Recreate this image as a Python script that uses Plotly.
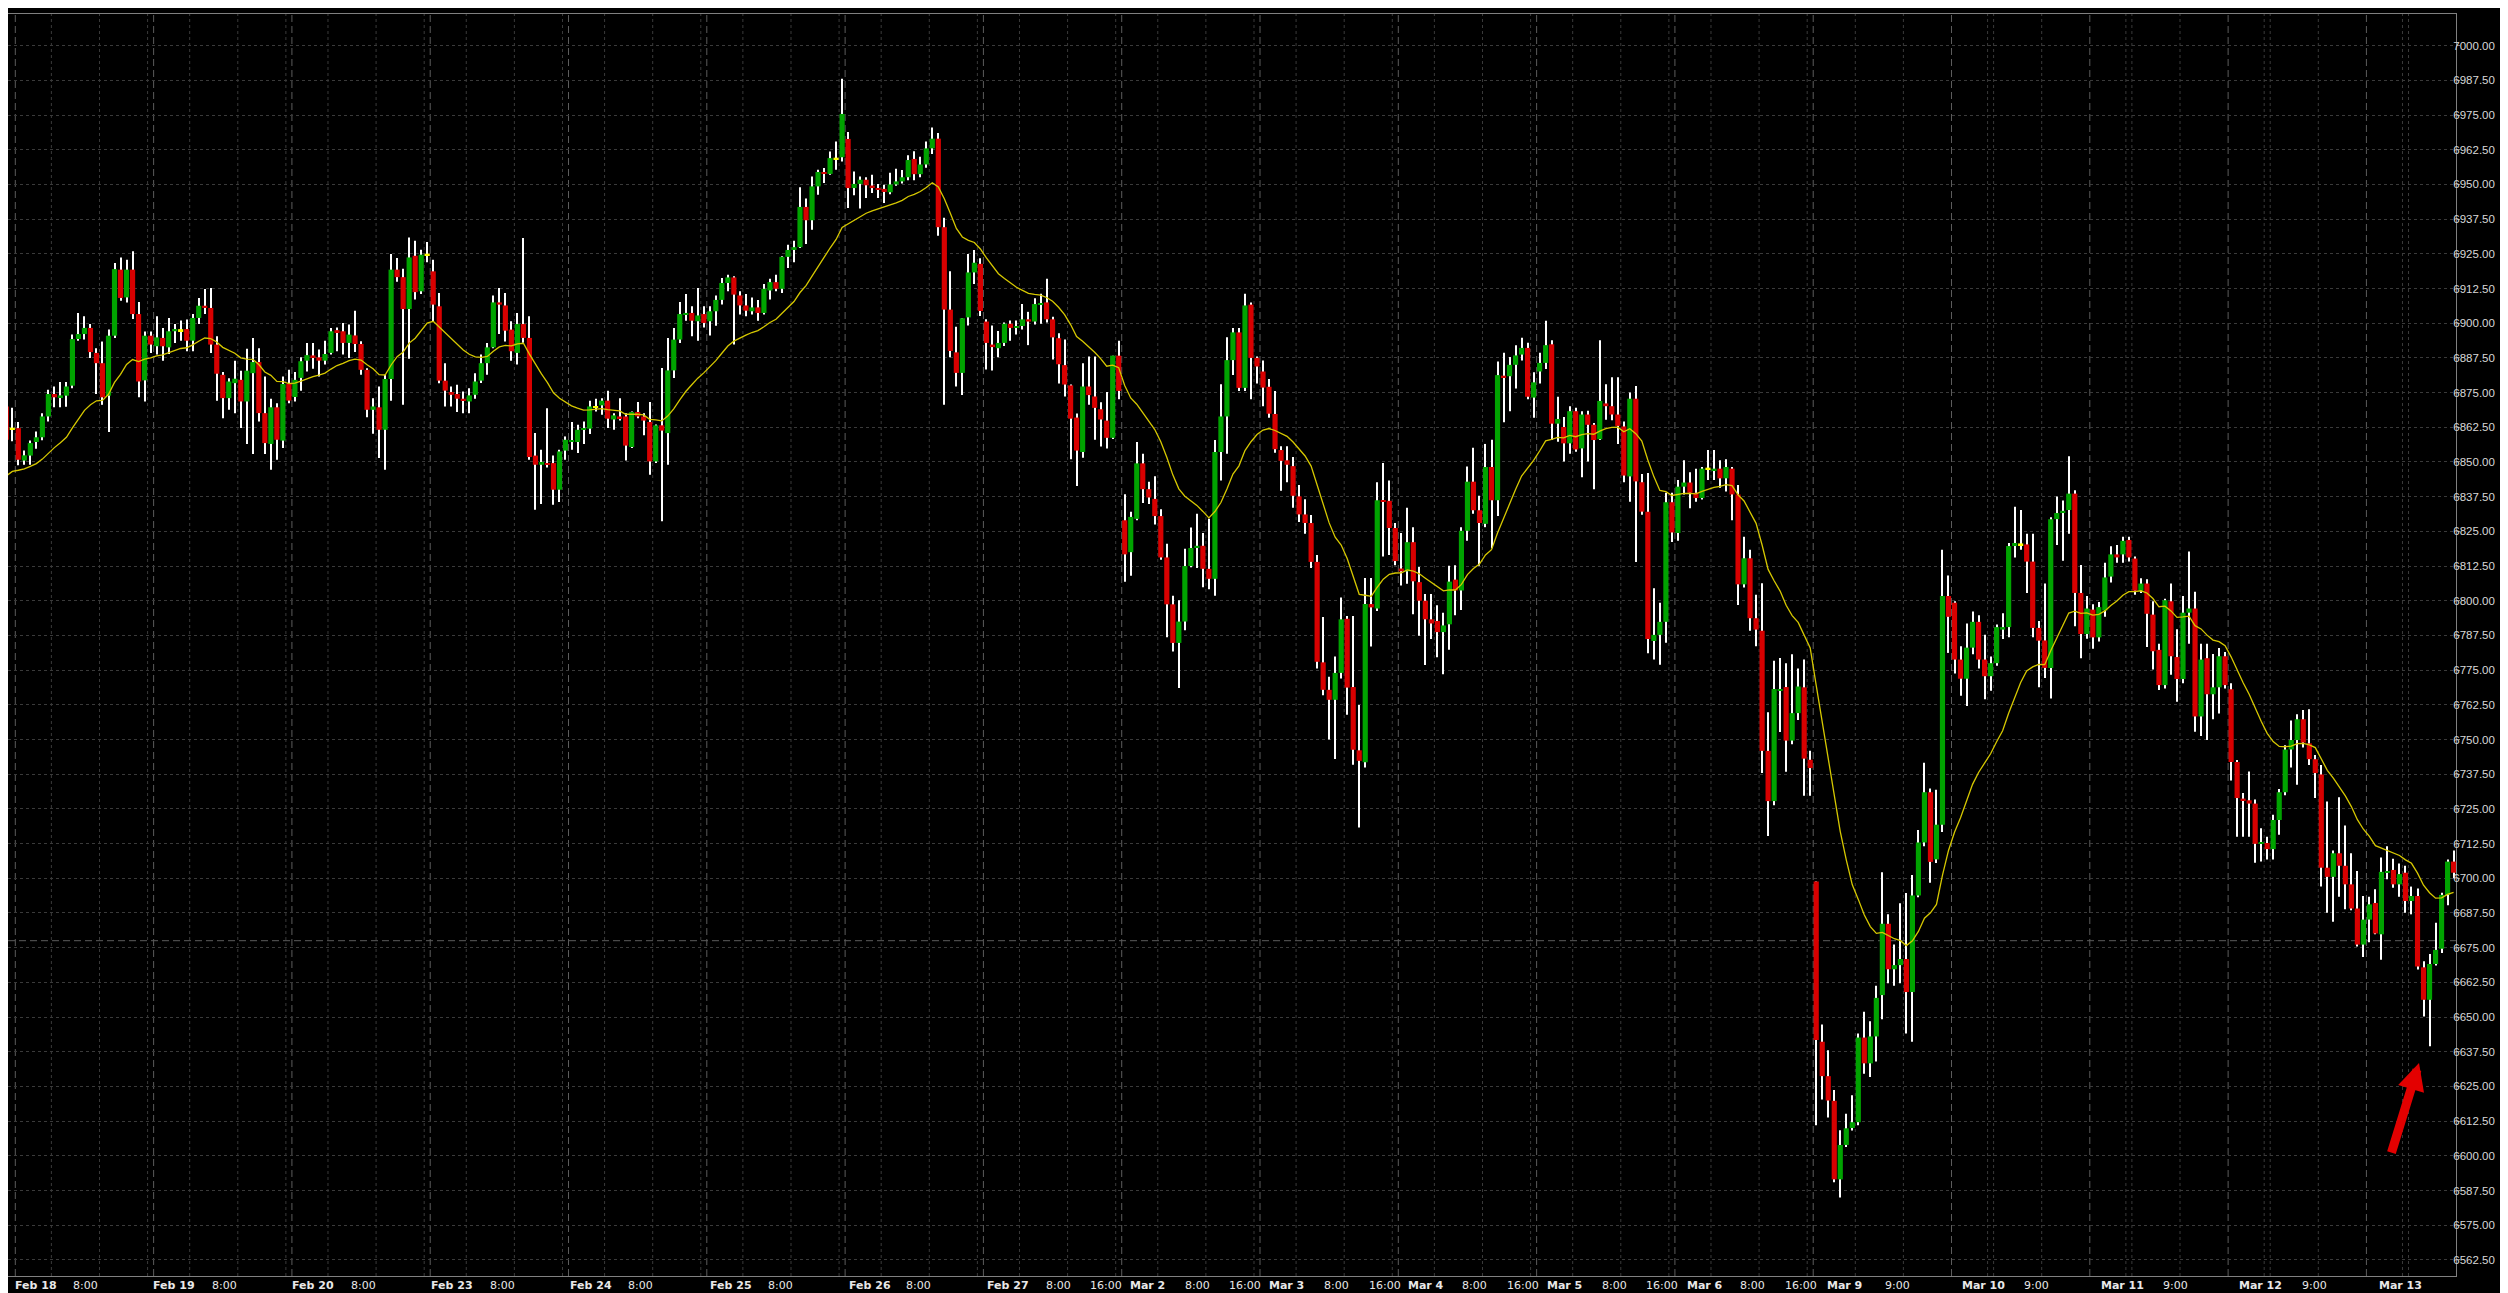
import plotly.graph_objects as go

# ---------------- data (hourly bars, index -1 .. 406) ----------------
first_bar = -1

opens = [
6870.0, 6862.0, 6862.2, 6850.5, 6852.3, 6857.2, 6858.9, 6866.4, 6874.5, 6873.4, 6873.9,
6877.5, 6894.3, 6896.1, 6898.3, 6889.3, 6885.6, 6873.9, 6895.5, 6919.3, 6909.3,
6919.3, 6903.3, 6879.4, 6895.5, 6891.7, 6894.7, 6891.3, 6897.1, 6897.5, 6897.9,
6893.7, 6901.9, 6906.3, 6905.5, 6892.3, 6881.4, 6873.0, 6878.4, 6879.6, 6871.8,
6882.0, 6886.0, 6867.6, 6856.5, 6869.7, 6857.7, 6878.1, 6873.4, 6880.3, 6886.5,
6888.4, 6887.7, 6886.5, 6889.3, 6897.5, 6897.1, 6892.9, 6895.6, 6892.5, 6883.2,
6868.8, 6869.7, 6861.6, 6879.9, 6919.3, 6916.6, 6905.1, 6924.3, 6911.5, 6924.7,
6918.7, 6906.1, 6879.3, 6875.2, 6874.5, 6872.8, 6871.8, 6874.2, 6879.3, 6885.6,
6891.3, 6907.5, 6906.4, 6897.7, 6889.3, 6899.7, 6894.7, 6852.3, 6849.0, 6849.6,
6849.6, 6840.0, 6854.1, 6857.2, 6857.2, 6861.6, 6862.0, 6869.8, 6870.4, 6872.1,
6865.3, 6866.4, 6866.4, 6855.4, 6868.0, 6866.4, 6864.4, 6850.2, 6863.2, 6860.4,
6883.0, 6894.1, 6903.0, 6903.7, 6900.7, 6903.3, 6900.7, 6904.3, 6908.4, 6914.5,
6916.5, 6910.0, 6906.4, 6904.3, 6905.7, 6903.7, 6911.8, 6914.8, 6912.4, 6923.9,
6926.4, 6927.4, 6941.9, 6937.1, 6949.3, 6954.5, 6953.8, 6959.3, 6959.8, 6966.4,
6948.7, 6950.2, 6951.7, 6949.6, 6948.7, 6948.4, 6947.2, 6950.0, 6951.1, 6952.6,
6959.2, 6953.7, 6957.2, 6963.0, 6966.5, 6934.6, 6904.9, 6889.5, 6882.1, 6902.1,
6918.3, 6921.4, 6900.6, 6892.3, 6891.0, 6892.9, 6899.8, 6898.4, 6899.0, 6901.4,
6900.6, 6906.6, 6907.5, 6901.4, 6894.6, 6884.9, 6877.6, 6866.0, 6853.6, 6877.2,
6873.6, 6869.0, 6864.9, 6858.7, 6888.3, 6829.0, 6817.5, 6829.5, 6849.5, 6840.2,
6836.7, 6830.5, 6815.6, 6798.7, 6784.8, 6792.5, 6812.5, 6819.0, 6819.8, 6811.5,
6807.9, 6853.6, 6866.4, 6886.7, 6896.7, 6876.7, 6906.7, 6887.5, 6882.6, 6877.1,
6867.3, 6854.3, 6850.6, 6848.5, 6837.6, 6831.1, 6828.0, 6814.0, 6777.8, 6767.9,
6764.3, 6774.0, 6793.5, 6768.9, 6746.1, 6741.8, 6798.8, 6797.2, 6836.2, 6836.0,
6826.2, 6811.6, 6810.6, 6821.1, 6806.7, 6800.0, 6793.3, 6792.7, 6788.7, 6791.5,
6807.6, 6803.7, 6825.2, 6842.9, 6832.6, 6827.7, 6848.2, 6836.2, 6881.1, 6880.9,
6885.0, 6888.7, 6891.1, 6873.2, 6882.6, 6885.7, 6892.4, 6863.8, 6862.6, 6856.7,
6868.3, 6854.9, 6867.1, 6863.4, 6858.2, 6871.1, 6870.1, 6867.1, 6862.8, 6844.8,
6872.8, 6842.7, 6832.1, 6785.5, 6787.7, 6792.4, 6835.5, 6824.4, 6841.1, 6842.6,
6838.9, 6837.0, 6847.6, 6846.9, 6847.6, 6844.1, 6847.6, 6838.3, 6805.9, 6815.3,
6793.7, 6789.2, 6745.9, 6727.8, 6767.7, 6768.9, 6749.6, 6759.5, 6768.8, 6742.7,
6698.8, 6641.1, 6628.7, 6619.8, 6591.5, 6603.9, 6610.0, 6612.1, 6642.6, 6633.3,
6643.0, 6657.9, 6683.6, 6667.2, 6668.7, 6670.9, 6659.0, 6693.8, 6712.9, 6731.0,
6706.8, 6719.3, 6801.7, 6799.3, 6778.8, 6771.9, 6783.1, 6792.4, 6778.8, 6772.8,
6777.5, 6789.6, 6790.5, 6819.7, 6820.3, 6820.3, 6814.1, 6790.2, 6785.7, 6775.8,
6829.4, 6831.6, 6832.7, 6838.6, 6802.8, 6788.0, 6796.8, 6786.8, 6796.5, 6808.7,
6816.7, 6816.7, 6821.9, 6815.2, 6803.6, 6806.2, 6795.0, 6782.3, 6769.6, 6799.8,
6779.7, 6771.8, 6795.7, 6797.2, 6758.3, 6779.3, 6766.3, 6768.8, 6780.0, 6768.1,
6741.9, 6728.7, 6728.1, 6726.9, 6712.4, 6712.7, 6710.5, 6721.0, 6731.0, 6746.4,
6749.8, 6757.3, 6748.6, 6742.9, 6737.4, 6703.8, 6700.5, 6709.0, 6704.5, 6697.8,
6689.1, 6676.1, 6685.1, 6691.1, 6679.8, 6701.9, 6703.0, 6697.8, 6702.0, 6691.8,
6693.6, 6667.9, 6656.2, 6669.1, 6674.6, 6694.0, 6706.0,
]

highs = [
6872.0, 6869.5, 6864.4, 6854.1, 6857.7, 6861.0, 6867.6, 6876.0, 6877.2, 6878.8, 6878.8,
6895.9, 6903.7, 6902.5, 6899.7, 6891.0, 6893.4, 6897.7, 6921.7, 6923.7, 6922.9,
6925.9, 6907.6, 6897.0, 6897.0, 6902.5, 6898.3, 6901.9, 6899.7, 6901.0, 6901.3,
6903.3, 6909.1, 6912.3, 6912.7, 6895.3, 6882.4, 6880.2, 6886.5, 6882.9, 6890.8,
6894.7, 6891.0, 6880.8, 6872.8, 6871.2, 6880.8, 6883.2, 6882.4, 6887.7, 6892.9,
6892.9, 6890.5, 6893.7, 6898.3, 6898.5, 6900.1, 6899.5, 6904.5, 6893.5, 6883.8,
6873.0, 6877.2, 6881.4, 6924.9, 6923.5, 6919.6, 6930.9, 6929.7, 6926.5, 6929.3,
6922.9, 6910.9, 6885.6, 6877.2, 6877.8, 6875.4, 6876.6, 6882.0, 6888.7, 6892.9,
6910.0, 6912.7, 6910.9, 6900.7, 6903.7, 6930.7, 6902.5, 6860.4, 6854.4, 6869.4,
6852.3, 6854.4, 6859.2, 6864.4, 6863.4, 6864.6, 6872.1, 6872.8, 6873.0, 6875.7,
6867.6, 6873.0, 6867.6, 6868.2, 6871.6, 6867.6, 6871.6, 6863.5, 6883.9, 6894.7,
6898.3, 6907.6, 6910.5, 6906.1, 6912.7, 6906.1, 6906.1, 6910.0, 6916.3, 6917.5,
6916.9, 6911.5, 6910.5, 6909.3, 6908.4, 6914.1, 6916.0, 6917.5, 6924.1, 6928.3,
6929.7, 6949.0, 6944.9, 6952.9, 6955.3, 6955.9, 6961.9, 6965.5, 6988.1, 6968.9,
6954.7, 6952.9, 6952.6, 6953.5, 6950.2, 6949.9, 6954.2, 6955.7, 6955.2, 6960.5,
6962.0, 6960.0, 6965.5, 6970.5, 6968.5, 6938.0, 6918.7, 6898.7, 6901.8, 6924.9,
6926.4, 6923.4, 6901.4, 6899.2, 6897.2, 6900.3, 6901.0, 6901.0, 6906.9, 6904.1,
6909.0, 6910.6, 6916.0, 6902.3, 6896.4, 6894.1, 6877.9, 6867.5, 6885.6, 6888.0,
6888.0, 6871.5, 6875.2, 6888.3, 6893.7, 6838.4, 6832.1, 6857.2, 6853.0, 6842.9,
6844.9, 6833.0, 6820.5, 6801.8, 6800.2, 6818.7, 6826.4, 6831.3, 6824.4, 6829.5,
6857.9, 6878.0, 6894.9, 6898.3, 6898.3, 6910.6, 6907.5, 6888.0, 6886.6, 6879.9,
6875.6, 6855.7, 6855.7, 6851.8, 6841.7, 6836.6, 6830.9, 6816.5, 6794.1, 6772.6,
6779.9, 6801.2, 6794.5, 6794.5, 6762.4, 6808.2, 6808.2, 6842.7, 6849.6, 6843.3,
6828.0, 6824.4, 6833.5, 6826.5, 6812.2, 6802.4, 6802.4, 6798.4, 6795.7, 6812.6,
6812.8, 6826.5, 6848.4, 6855.1, 6837.8, 6856.5, 6858.0, 6886.2, 6889.4, 6887.8,
6892.1, 6894.8, 6893.0, 6882.3, 6889.4, 6900.9, 6893.9, 6873.5, 6866.2, 6870.1,
6869.5, 6868.3, 6868.5, 6864.0, 6893.9, 6878.0, 6880.5, 6880.5, 6864.6, 6875.0,
6877.4, 6845.7, 6846.0, 6804.5, 6799.3, 6838.9, 6838.9, 6843.5, 6850.6, 6846.3,
6847.6, 6848.2, 6854.3, 6854.3, 6850.6, 6851.0, 6848.2, 6841.7, 6823.1, 6818.4,
6802.2, 6806.3, 6759.8, 6778.4, 6779.4, 6777.5, 6780.7, 6775.6, 6778.8, 6745.9,
6698.8, 6647.3, 6638.0, 6623.7, 6609.2, 6615.1, 6621.8, 6644.1, 6651.9, 6648.5,
6661.3, 6702.2, 6687.0, 6676.1, 6691.0, 6694.7, 6701.2, 6717.4, 6741.6, 6732.3,
6731.9, 6818.4, 6809.1, 6799.8, 6783.6, 6791.8, 6796.1, 6794.8, 6787.7, 6779.9,
6791.4, 6795.5, 6820.8, 6833.9, 6832.7, 6824.1, 6824.1, 6792.7, 6806.2, 6830.1,
6837.6, 6836.1, 6852.1, 6839.8, 6812.9, 6801.7, 6798.7, 6799.5, 6813.7, 6819.6,
6820.1, 6823.1, 6823.1, 6815.9, 6808.1, 6807.7, 6799.8, 6784.5, 6800.7, 6806.2,
6789.7, 6801.7, 6817.7, 6803.2, 6784.5, 6784.5, 6780.8, 6783.0, 6781.5, 6770.3,
6742.6, 6730.7, 6738.5, 6728.4, 6718.0, 6715.0, 6722.9, 6732.2, 6747.9, 6756.8,
6759.1, 6760.6, 6760.9, 6744.4, 6740.8, 6727.7, 6710.0, 6729.2, 6719.0, 6709.0,
6702.6, 6693.6, 6693.3, 6696.0, 6707.5, 6711.5, 6707.0, 6705.3, 6704.5, 6697.0,
6696.3, 6670.1, 6672.7, 6684.0, 6694.8, 6706.8, 6710.0,
]

lows = [
6855.0, 6857.5, 6848.8, 6849.0, 6849.0, 6854.8, 6857.8, 6864.6, 6869.7, 6869.7, 6869.9,
6876.6, 6893.7, 6894.1, 6887.5, 6874.5, 6870.6, 6860.8, 6894.7, 6908.1, 6907.5,
6901.5, 6873.3, 6871.8, 6889.3, 6888.7, 6886.5, 6888.9, 6892.9, 6893.7, 6889.9,
6889.9, 6899.7, 6903.3, 6889.3, 6872.1, 6865.8, 6868.8, 6867.6, 6862.2, 6856.5,
6852.9, 6864.6, 6852.9, 6847.2, 6850.8, 6855.0, 6871.2, 6871.8, 6875.7, 6882.6,
6883.6, 6880.8, 6885.1, 6888.7, 6889.9, 6888.7, 6887.5, 6889.6, 6881.4, 6866.1,
6860.2, 6851.4, 6847.2, 6872.1, 6914.9, 6870.6, 6887.2, 6908.5, 6910.5, 6922.0,
6900.7, 6878.4, 6870.0, 6870.0, 6868.0, 6867.6, 6867.6, 6872.8, 6878.5, 6881.4,
6891.0, 6896.1, 6893.4, 6886.5, 6885.1, 6893.0, 6850.8, 6832.8, 6834.9, 6848.0,
6834.6, 6835.6, 6850.8, 6854.4, 6853.2, 6856.5, 6860.1, 6868.2, 6867.0, 6862.2,
6861.6, 6864.9, 6850.5, 6855.0, 6865.8, 6859.6, 6845.4, 6849.6, 6828.6, 6849.0,
6880.3, 6892.9, 6900.9, 6895.3, 6893.7, 6898.5, 6895.6, 6899.1, 6906.7, 6911.5,
6892.3, 6903.1, 6902.5, 6903.1, 6900.9, 6903.1, 6908.5, 6911.5, 6910.9, 6919.9,
6922.0, 6927.1, 6928.5, 6933.7, 6946.3, 6950.5, 6953.5, 6955.3, 6958.3, 6941.5,
6946.1, 6941.3, 6945.1, 6946.9, 6945.1, 6943.3, 6946.5, 6949.5, 6950.3, 6951.5,
6951.5, 6952.6, 6956.0, 6961.0, 6931.5, 6870.6, 6887.7, 6877.2, 6874.1, 6899.2,
6914.1, 6902.6, 6883.3, 6883.0, 6887.7, 6891.8, 6893.7, 6895.9, 6897.7, 6892.1,
6899.5, 6899.8, 6900.3, 6886.9, 6878.3, 6873.6, 6851.0, 6841.3, 6851.5, 6870.6,
6858.0, 6855.6, 6854.9, 6858.3, 6872.6, 6806.8, 6809.0, 6829.0, 6835.2, 6834.9,
6827.5, 6814.8, 6786.8, 6781.7, 6768.6, 6789.4, 6812.1, 6811.8, 6804.9, 6804.1,
6801.8, 6843.3, 6853.0, 6881.3, 6875.6, 6875.6, 6872.6, 6878.3, 6870.1, 6865.9,
6853.3, 6839.6, 6842.7, 6833.5, 6828.4, 6824.1, 6811.8, 6775.6, 6765.9, 6750.0,
6743.0, 6772.0, 6758.9, 6740.9, 6718.3, 6739.9, 6783.5, 6796.3, 6815.9, 6816.5,
6812.8, 6805.5, 6806.1, 6795.1, 6787.4, 6776.8, 6786.2, 6779.6, 6773.5, 6782.3,
6794.8, 6796.7, 6821.6, 6831.3, 6812.6, 6826.5, 6818.9, 6830.5, 6864.3, 6868.3,
6876.5, 6886.6, 6872.6, 6865.9, 6878.3, 6883.5, 6857.9, 6857.3, 6850.2, 6853.0,
6853.7, 6844.5, 6850.2, 6840.2, 6857.9, 6865.2, 6865.0, 6856.5, 6842.7, 6835.7,
6814.0, 6831.0, 6781.1, 6778.8, 6776.9, 6784.9, 6821.2, 6821.6, 6838.3, 6833.3,
6835.7, 6836.5, 6843.5, 6843.5, 6840.7, 6839.4, 6829.0, 6798.5, 6804.8, 6789.2,
6783.6, 6737.9, 6715.2, 6726.3, 6752.7, 6738.4, 6748.3, 6757.0, 6729.7, 6729.7,
6611.0, 6620.3, 6613.8, 6590.5, 6585.0, 6603.2, 6609.1, 6611.0, 6629.6, 6628.4,
6634.0, 6649.2, 6662.2, 6661.3, 6662.2, 6644.1, 6641.1, 6693.2, 6711.5, 6698.4,
6705.5, 6716.7, 6781.2, 6773.8, 6765.8, 6762.1, 6780.7, 6775.6, 6764.5, 6767.6,
6776.6, 6786.2, 6786.8, 6815.6, 6818.4, 6802.8, 6786.8, 6768.8, 6772.2, 6764.8,
6820.1, 6814.4, 6824.1, 6790.8, 6779.3, 6786.3, 6782.7, 6785.3, 6794.2, 6806.6,
6813.7, 6813.7, 6814.1, 6802.2, 6802.8, 6783.3, 6775.2, 6767.8, 6768.4, 6773.3,
6763.6, 6770.3, 6784.5, 6752.8, 6751.3, 6749.8, 6757.3, 6759.4, 6768.4, 6735.2,
6715.0, 6715.0, 6715.0, 6705.6, 6706.0, 6706.8, 6706.8, 6715.7, 6729.9, 6739.9,
6733.7, 6747.1, 6740.8, 6728.9, 6697.0, 6687.6, 6684.3, 6693.3, 6688.8, 6688.5,
6675.4, 6671.6, 6676.9, 6679.8, 6670.6, 6699.6, 6696.6, 6693.3, 6687.6, 6687.0,
6667.1, 6650.2, 6639.5, 6668.6, 6673.1, 6690.3, 6700.0,
]

closes = [
6858.0, 6862.0, 6850.8, 6852.4, 6856.8, 6858.9, 6866.4, 6874.5, 6873.3, 6874.0, 6877.2,
6894.3, 6896.1, 6898.3, 6889.6, 6885.6, 6873.3, 6895.5, 6919.5, 6909.1, 6919.3,
6903.3, 6879.0, 6895.5, 6892.3, 6894.9, 6891.7, 6897.1, 6897.9, 6897.5, 6893.7,
6901.9, 6906.3, 6905.5, 6892.3, 6881.8, 6873.0, 6879.0, 6880.0, 6871.8, 6882.9,
6886.0, 6867.6, 6856.8, 6869.7, 6858.0, 6878.1, 6872.1, 6879.6, 6886.3, 6888.5,
6887.7, 6886.5, 6888.9, 6897.1, 6896.8, 6892.9, 6895.9, 6892.5, 6883.2, 6868.8,
6870.0, 6861.6, 6879.9, 6919.3, 6916.6, 6905.1, 6923.7, 6911.2, 6924.7, 6924.7,
6906.7, 6879.3, 6875.7, 6874.2, 6872.8, 6872.1, 6874.0, 6879.0, 6885.6, 6891.3,
6907.5, 6906.7, 6897.3, 6889.9, 6899.7, 6894.7, 6851.8, 6849.0, 6850.0, 6849.0,
6840.0, 6853.8, 6858.0, 6857.8, 6861.6, 6862.0, 6870.0, 6869.8, 6872.1, 6865.6,
6866.8, 6865.8, 6855.9, 6868.0, 6866.4, 6864.9, 6850.2, 6863.2, 6861.3, 6883.0,
6894.1, 6903.3, 6903.7, 6900.9, 6902.8, 6900.1, 6904.3, 6908.4, 6914.5, 6916.5,
6910.3, 6906.4, 6904.5, 6905.7, 6903.7, 6912.4, 6914.8, 6912.4, 6923.9, 6926.4,
6927.4, 6941.9, 6937.1, 6949.3, 6954.5, 6953.8, 6959.5, 6959.3, 6975.4, 6948.7,
6950.2, 6951.7, 6949.7, 6948.7, 6948.1, 6947.3, 6950.0, 6951.1, 6952.6, 6958.8,
6953.7, 6957.2, 6963.0, 6966.5, 6934.6, 6904.9, 6890.0, 6882.1, 6901.8, 6918.3,
6921.8, 6904.4, 6892.9, 6891.4, 6892.9, 6899.8, 6898.3, 6899.0, 6901.4, 6900.6,
6906.9, 6907.2, 6901.4, 6894.9, 6885.2, 6877.9, 6865.6, 6854.1, 6877.2, 6874.1,
6869.5, 6865.3, 6858.7, 6888.3, 6875.6, 6816.7, 6830.2, 6849.5, 6840.2, 6837.2,
6830.5, 6815.6, 6798.7, 6784.8, 6792.5, 6812.5, 6819.0, 6819.8, 6811.5, 6807.9,
6853.6, 6866.4, 6886.7, 6896.7, 6876.7, 6906.4, 6887.5, 6884.4, 6876.8, 6867.4,
6854.6, 6850.4, 6849.0, 6837.8, 6831.1, 6828.0, 6814.0, 6778.0, 6767.9, 6764.3,
6774.0, 6793.3, 6768.7, 6746.3, 6742.3, 6798.8, 6797.6, 6836.2, 6835.6, 6826.2,
6814.3, 6810.6, 6821.1, 6807.0, 6800.0, 6793.3, 6791.8, 6788.7, 6791.1, 6806.9,
6803.7, 6825.2, 6842.9, 6832.6, 6828.0, 6848.2, 6836.2, 6881.3, 6880.5, 6885.0,
6888.4, 6891.1, 6873.5, 6878.7, 6885.7, 6892.1, 6863.8, 6865.5, 6856.7, 6868.3,
6854.5, 6867.1, 6863.4, 6857.9, 6872.0, 6870.1, 6867.1, 6863.0, 6845.1, 6872.8,
6843.0, 6832.1, 6786.2, 6787.7, 6792.4, 6835.5, 6824.6, 6841.1, 6842.6, 6838.9,
6837.0, 6847.6, 6847.6, 6847.6, 6844.1, 6848.2, 6838.3, 6805.9, 6815.3, 6793.7,
6789.6, 6745.9, 6727.8, 6768.2, 6768.2, 6749.6, 6759.5, 6769.1, 6743.1, 6739.7,
6641.7, 6628.7, 6619.9, 6591.5, 6603.9, 6609.9, 6612.1, 6642.6, 6633.3, 6643.0,
6656.9, 6683.6, 6667.2, 6668.7, 6670.9, 6659.0, 6693.8, 6712.9, 6731.0, 6705.9,
6719.3, 6801.7, 6794.2, 6778.8, 6771.9, 6783.1, 6792.4, 6778.8, 6772.8, 6777.5,
6790.5, 6790.5, 6819.7, 6820.8, 6820.3, 6814.1, 6790.2, 6785.6, 6775.8, 6829.4,
6831.6, 6832.4, 6838.6, 6802.8, 6788.0, 6797.2, 6786.8, 6797.7, 6808.4, 6816.7,
6815.6, 6821.6, 6815.6, 6803.6, 6806.2, 6795.3, 6781.8, 6769.6, 6800.2, 6780.0,
6771.8, 6795.7, 6797.2, 6758.3, 6778.8, 6766.3, 6768.8, 6780.0, 6769.6, 6741.9,
6728.9, 6728.1, 6726.9, 6712.4, 6713.0, 6710.5, 6721.0, 6731.0, 6746.4, 6749.8,
6757.3, 6748.9, 6742.9, 6737.9, 6703.8, 6700.5, 6709.0, 6704.5, 6697.8, 6689.1,
6676.1, 6685.1, 6690.6, 6680.1, 6702.3, 6702.6, 6697.8, 6701.5, 6691.8, 6693.6,
6668.2, 6656.2, 6669.1, 6674.2, 6694.0, 6706.0, 6702.0,
]

# moving average (EMA 20 of closes), starting value read at the left edge
ma_period = 20
ma_start = 6845.0

# horizontal level line
level_price = 6677.5

# time axis
bars_per_day = 23
n_days = 18
label_pos = [0.7, 10.4, 23.8, 33.5, 46.9, 56.6, 70.0, 79.7, 93.1, 102.8, 116.3, 126.0,
             139.4, 149.0, 162.5, 172.2, 179.5, 186.2, 195.3, 202.7, 209.4, 218.4, 225.9,
             232.5, 241.5, 248.9, 255.6, 264.7, 272.0, 278.8, 287.7, 295.1, 302.2, 311.8,
             324.6, 334.9, 347.7, 358.0, 370.7, 381.2, 393.9]
label_text = ['Feb 18', '8:00', 'Feb 19', '8:00', 'Feb 20', '8:00', 'Feb 23', '8:00',
              'Feb 24', '8:00', 'Feb 25', '8:00', 'Feb 26', '8:00', 'Feb 27', '8:00', '16:00',
              'Mar 2', '8:00', '16:00', 'Mar 3', '8:00', '16:00', 'Mar 4', '8:00', '16:00',
              'Mar 5', '8:00', '16:00', 'Mar 6', '8:00', '16:00', 'Mar 9', '9:00', 'Mar 10',
              '9:00', 'Mar 11', '9:00', 'Mar 12', '9:00', 'Mar 13']
# hour-grid offsets (bars after each day separator)
grid_offsets = [[6, 14, 22]] * 13 + [[7, 15], [6, 7, 15], [6, 7, 15], [6, 7, 15], [6, 7]]

# ---------------- build figure ----------------
n = len(opens)
assert len(highs) == n and len(lows) == n and len(closes) == n, (len(opens), len(highs), len(lows), len(closes))
idx = list(range(first_bar, first_bar + n))

GREEN = '#00a300'
RED = '#d80000'
DOJI = '#ffff00'
MA_COLOR = '#d6c800'

# wicks (as thin bars so that bodies can be drawn on top of them)
wick_base, wick_len = [], []
for h, l, o, c in zip(highs, lows, opens, closes):
    lo_, hi_ = min(l, o, c), max(h, o, c)
    wick_base.append(lo_)
    wick_len.append(hi_ - lo_)

# bodies
bases, heights, colors = [], [], []
for o, c in zip(opens, closes):
    if abs(c - o) < 1e-9:
        bases.append(o - 0.35)
        heights.append(0.7)
        colors.append(DOJI)
    else:
        lo_, hi_ = min(o, c), max(o, c)
        bases.append(lo_)
        heights.append(max(hi_ - lo_, 0.45))
        colors.append(GREEN if c > o else RED)

# EMA
alpha = 2.0 / (ma_period + 1)
ma = [ma_start]
for c in closes[1:]:
    ma.append(ma[-1] + alpha * (c - ma[-1]))

fig = go.Figure()
fig.add_trace(go.Bar(x=idx, y=wick_len, base=wick_base, width=0.17,
                     marker=dict(color='#ffffff', line=dict(width=0)), hoverinfo='skip'))
fig.add_trace(go.Bar(x=idx, y=heights, base=bases, width=0.86,
                     marker=dict(color=colors, line=dict(width=0)), hoverinfo='skip'))
fig.add_trace(go.Scatter(x=idx, y=ma, mode='lines', line=dict(color=MA_COLOR, width=1.3),
                         hoverinfo='skip'))

X_LO, X_HI = -0.715, 406.40
Y_LO, Y_HI = 6556.68, 7011.42

shapes = []
for k in range(n_days):
    sep = first_bar + 1.5 + bars_per_day * k
    shapes.append(dict(type='line', xref='x', yref='paper', x0=sep, x1=sep, y0=0, y1=1,
                       line=dict(color='#5c5c5c', width=1, dash='7px,4px'), layer='below'))
    for off in grid_offsets[k]:
        gx = sep + off
        if gx < X_HI:
            shapes.append(dict(type='line', xref='x', yref='paper', x0=gx, x1=gx, y0=0, y1=1,
                               line=dict(color='#3a3a3a', width=1, dash='3px,3px'), layer='below'))
shapes.append(dict(type='line', xref='paper', yref='y', x0=0, x1=1, y0=level_price, y1=level_price,
                   line=dict(color='#5c5c5c', width=1, dash='7px,4px'), layer='below'))

annotations = []
for p, t in zip(label_pos, label_text):
    txt = t if ':' in t else '<b>%s</b>' % t
    annotations.append(dict(x=p, y=0, xref='x', yref='paper', text=txt, showarrow=False,
                            xanchor='left', yanchor='middle', yshift=-9, xshift=-3, borderpad=0,
                            font=dict(family='DejaVu Sans', size=11, color='#e8e8e8')))

# red arrow pointing at the low
annotations.append(dict(x=400.25, y=6633.4, xref='x', yref='y', ax=-28, ay=91,
                        axref='pixel', ayref='pixel', text='', showarrow=True,
                        arrowhead=2, arrowsize=0.6, arrowwidth=9, arrowcolor='#e30000'))

fig.update_layout(
    width=2508, height=1293,
    margin=dict(l=0, r=60, t=6, b=25),
    paper_bgcolor='#000000', plot_bgcolor='#000000',
    showlegend=False, barmode='overlay',
    shapes=shapes, annotations=annotations,
    xaxis=dict(range=[X_LO, X_HI], showgrid=False, zeroline=False, showticklabels=False,
               ticks='', showline=True, linecolor='#808080', linewidth=1, mirror=True,
               fixedrange=True),
    yaxis=dict(range=[Y_LO, Y_HI], side='right', tick0=6562.5, dtick=12.5, tickformat='.2f',
               showgrid=True, gridcolor='#3a3a3a', griddash='3px,3px', gridwidth=1,
               zeroline=False, ticks='outside', ticklen=3, tickcolor='#808080',
               ticklabelstandoff=-9,
               tickfont=dict(family='Liberation Sans', size=11.5, color='#d8d8d8'),
               showline=True, linecolor='#808080', linewidth=1, mirror=True, fixedrange=True),
)

fig.write_html('out.html')
